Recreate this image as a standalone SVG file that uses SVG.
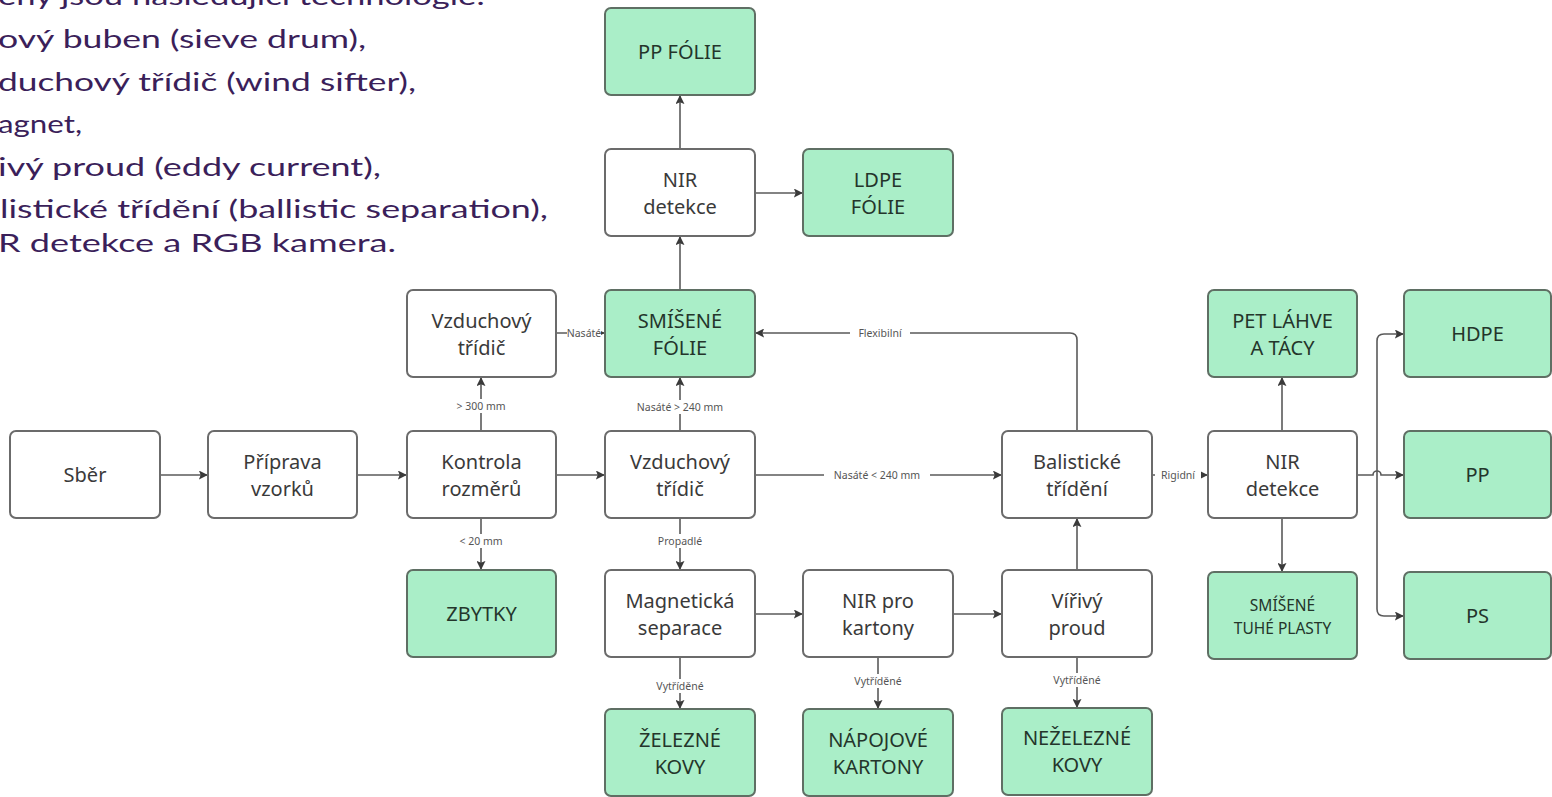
<svg xmlns="http://www.w3.org/2000/svg" width="1552" height="797" viewBox="0 0 1552 797">
<defs>
<marker id="arr" viewBox="0 0 10 10" refX="9" refY="5" markerWidth="9" markerHeight="9" markerUnits="userSpaceOnUse" orient="auto">
<path d="M0,0 L10,5 L0,10 L2,5 Z" fill="#3a3a3a"/>
</marker>
<style>
.box{fill:#ffffff;stroke:#6b6b6b;stroke-width:2}
.green{fill:#aaeec8;stroke:#5f6f64;stroke-width:2}
.t{font-family:"Noto Sans","Liberation Sans",sans-serif;font-size:20px;fill:#3a3a3a;text-anchor:middle}
.tg{font-family:"Noto Sans","Liberation Sans",sans-serif;font-size:20px;fill:#24352b;text-anchor:middle}
.ts{font-family:"Noto Sans","Liberation Sans",sans-serif;font-size:15.5px;fill:#24352b;text-anchor:middle}
.c{fill:none;stroke:#5a5a5a;stroke-width:1.6;marker-end:url(#arr)}
.cl{fill:none;stroke:#5a5a5a;stroke-width:1.6}
.lb{font-family:"Noto Sans","Liberation Sans",sans-serif;font-size:10.5px;fill:#555;text-anchor:middle}
.lbg{fill:#ffffff}
.intro{font-family:"Lato","Noto Sans",sans-serif;font-size:25px;fill:#3b1f5a}
</style>
</defs>
<rect width="1552" height="797" fill="#ffffff"/>

<g id="intro-text">
<text class="intro" x="-2" y="5" textLength="487" lengthAdjust="spacingAndGlyphs">ěny jsou následující technologie:</text>
<text class="intro" x="-2" y="48" textLength="368" lengthAdjust="spacingAndGlyphs">ový buben (sieve drum),</text>
<text class="intro" x="-2" y="91" textLength="418" lengthAdjust="spacingAndGlyphs">duchový třídič (wind sifter),</text>
<text class="intro" x="-2" y="133" textLength="84" lengthAdjust="spacingAndGlyphs">agnet,</text>
<text class="intro" x="-2" y="176" textLength="383" lengthAdjust="spacingAndGlyphs">ivý proud (eddy current),</text>
<text class="intro" x="0" y="218" textLength="548" lengthAdjust="spacingAndGlyphs">listické třídění (ballistic separation),</text>
<text class="intro" x="-2" y="252" textLength="398" lengthAdjust="spacingAndGlyphs">R detekce a RGB kamera.</text>
</g>

<g id="connectors">
<path class="c" d="M160,475 H207"/>
<path class="c" d="M357,475 H406"/>
<path class="c" d="M556,475 H604"/>
<path class="c" d="M481,431 V378"/>
<path class="c" d="M481,518 V569"/>
<path class="c" d="M556,333 H604"/>
<path class="c" d="M680,431 V378"/>
<path class="c" d="M680,518 V569"/>
<path class="c" d="M755,475 H1001"/>
<path class="c" d="M680,290 V237"/>
<path class="c" d="M680,149 V96"/>
<path class="c" d="M755,193 H802"/>
<path class="c" d="M1077,431 V340 Q1077,333 1070,333 H756"/>
<path class="c" d="M1152,475 H1207"/>
<path class="c" d="M755,614 H802"/>
<path class="c" d="M953,614 H1001"/>
<path class="c" d="M1077,570 V519"/>
<path class="c" d="M680,657 V708"/>
<path class="c" d="M878,657 V708"/>
<path class="c" d="M1077,657 V707"/>
<path class="c" d="M1282,431 V378"/>
<path class="c" d="M1282,518 V571"/>
<path class="c" d="M1357,475 H1373 A4,4 0 0 1 1381,475 H1403"/>
<path class="c" d="M1377,475 V341 Q1377,334 1384,334 H1403"/>
<path class="c" d="M1377,475 V609 Q1377,616 1384,616 H1403"/>

<g id="labels">
<rect class="lbg" x="454" y="399" width="55" height="14"/><text class="lb" x="481" y="410">&gt; 300 mm</text>
<rect class="lbg" x="456" y="534" width="50" height="14"/><text class="lb" x="481" y="545">&lt; 20 mm</text>
<rect class="lbg" x="567" y="326" width="34" height="14"/><text class="lb" x="584" y="337">Nasáté</text>
<rect class="lbg" x="630" y="400" width="100" height="14"/><text class="lb" x="680" y="411">Nasáté &gt; 240 mm</text>
<rect class="lbg" x="652" y="534" width="56" height="14"/><text class="lb" x="680" y="545">Propadlé</text>
<rect class="lbg" x="824" y="468" width="106" height="14"/><text class="lb" x="877" y="479">Nasáté &lt; 240 mm</text>
<rect class="lbg" x="850" y="326" width="60" height="14"/><text class="lb" x="880" y="337">Flexibilní</text>
<rect class="lbg" x="1155" y="468" width="46" height="14"/><text class="lb" x="1178" y="479">Rigidní</text>
<rect class="lbg" x="647" y="679" width="66" height="14"/><text class="lb" x="680" y="690">Vytříděné</text>
<rect class="lbg" x="845" y="674" width="66" height="14"/><text class="lb" x="878" y="685">Vytříděné</text>
<rect class="lbg" x="1044" y="673" width="66" height="14"/><text class="lb" x="1077" y="684">Vytříděné</text>
</g>
</g>

<g id="sber"><rect class="box" x="10" y="431" width="150" height="87" rx="6"/><text class="t" x="85" y="482">Sběr</text></g>
<g id="priprava"><rect class="box" x="208" y="431" width="149" height="87" rx="6"/><text class="t" x="282.5" y="469">Příprava</text><text class="t" x="282.5" y="496">vzorků</text></g>
<g id="kontrola"><rect class="box" x="407" y="431" width="149" height="87" rx="6"/><text class="t" x="481.5" y="469">Kontrola</text><text class="t" x="481.5" y="496">rozměrů</text></g>
<g id="vzduch-horni"><rect class="box" x="407" y="290" width="149" height="87" rx="6"/><text class="t" x="481.5" y="328">Vzduchový</text><text class="t" x="481.5" y="355">třídič</text></g>
<g id="smisene-folie"><rect class="green" x="605" y="290" width="150" height="87" rx="6"/><text class="tg" x="680" y="328">SMÍŠENÉ</text><text class="tg" x="680" y="355">FÓLIE</text></g>
<g id="nir-folie"><rect class="box" x="605" y="149" width="150" height="87" rx="6"/><text class="t" x="680" y="187">NIR</text><text class="t" x="680" y="214">detekce</text></g>
<g id="pp-folie"><rect class="green" x="605" y="8" width="150" height="87" rx="6"/><text class="tg" x="680" y="59">PP FÓLIE</text></g>
<g id="ldpe-folie"><rect class="green" x="803" y="149" width="150" height="87" rx="6"/><text class="tg" x="878" y="187">LDPE</text><text class="tg" x="878" y="214">FÓLIE</text></g>
<g id="vzduch-stred"><rect class="box" x="605" y="431" width="150" height="87" rx="6"/><text class="t" x="680" y="469">Vzduchový</text><text class="t" x="680" y="496">třídič</text></g>
<g id="balisticke"><rect class="box" x="1002" y="431" width="150" height="87" rx="6"/><text class="t" x="1077" y="469">Balistické</text><text class="t" x="1077" y="496">třídění</text></g>
<g id="nir-tuhe"><rect class="box" x="1208" y="431" width="149" height="87" rx="6"/><text class="t" x="1282.5" y="469">NIR</text><text class="t" x="1282.5" y="496">detekce</text></g>
<g id="pet"><rect class="green" x="1208" y="290" width="149" height="87" rx="6"/><text class="tg" x="1282.5" y="328">PET LÁHVE</text><text class="tg" x="1282.5" y="355">A TÁCY</text></g>
<g id="hdpe"><rect class="green" x="1404" y="290" width="147" height="87" rx="6"/><text class="tg" x="1477.5" y="341">HDPE</text></g>
<g id="pp"><rect class="green" x="1404" y="431" width="147" height="87" rx="6"/><text class="tg" x="1477.5" y="482">PP</text></g>
<g id="ps"><rect class="green" x="1404" y="572" width="147" height="87" rx="6"/><text class="tg" x="1477.5" y="623">PS</text></g>
<g id="smisene-tuhe"><rect class="green" x="1208" y="572" width="149" height="87" rx="6"/><text class="ts" x="1282.5" y="611">SMÍŠENÉ</text><text class="ts" x="1282.5" y="634">TUHÉ PLASTY</text></g>
<g id="zbytky"><rect class="green" x="407" y="570" width="149" height="87" rx="6"/><text class="tg" x="481.5" y="621">ZBYTKY</text></g>
<g id="magneticka"><rect class="box" x="605" y="570" width="150" height="87" rx="6"/><text class="t" x="680" y="608">Magnetická</text><text class="t" x="680" y="635">separace</text></g>
<g id="nir-kartony"><rect class="box" x="803" y="570" width="150" height="87" rx="6"/><text class="t" x="878" y="608">NIR pro</text><text class="t" x="878" y="635">kartony</text></g>
<g id="virivy"><rect class="box" x="1002" y="570" width="150" height="87" rx="6"/><text class="t" x="1077" y="608">Vířivý</text><text class="t" x="1077" y="635">proud</text></g>
<g id="zelezne"><rect class="green" x="605" y="709" width="150" height="87" rx="6"/><text class="tg" x="680" y="747">ŽELEZNÉ</text><text class="tg" x="680" y="774">KOVY</text></g>
<g id="napojove"><rect class="green" x="803" y="709" width="150" height="87" rx="6"/><text class="tg" x="878" y="747">NÁPOJOVÉ</text><text class="tg" x="878" y="774">KARTONY</text></g>
<g id="nezelezne"><rect class="green" x="1002" y="708" width="150" height="87" rx="6"/><text class="tg" x="1077" y="745">NEŽELEZNÉ</text><text class="tg" x="1077" y="772">KOVY</text></g>
</svg>
